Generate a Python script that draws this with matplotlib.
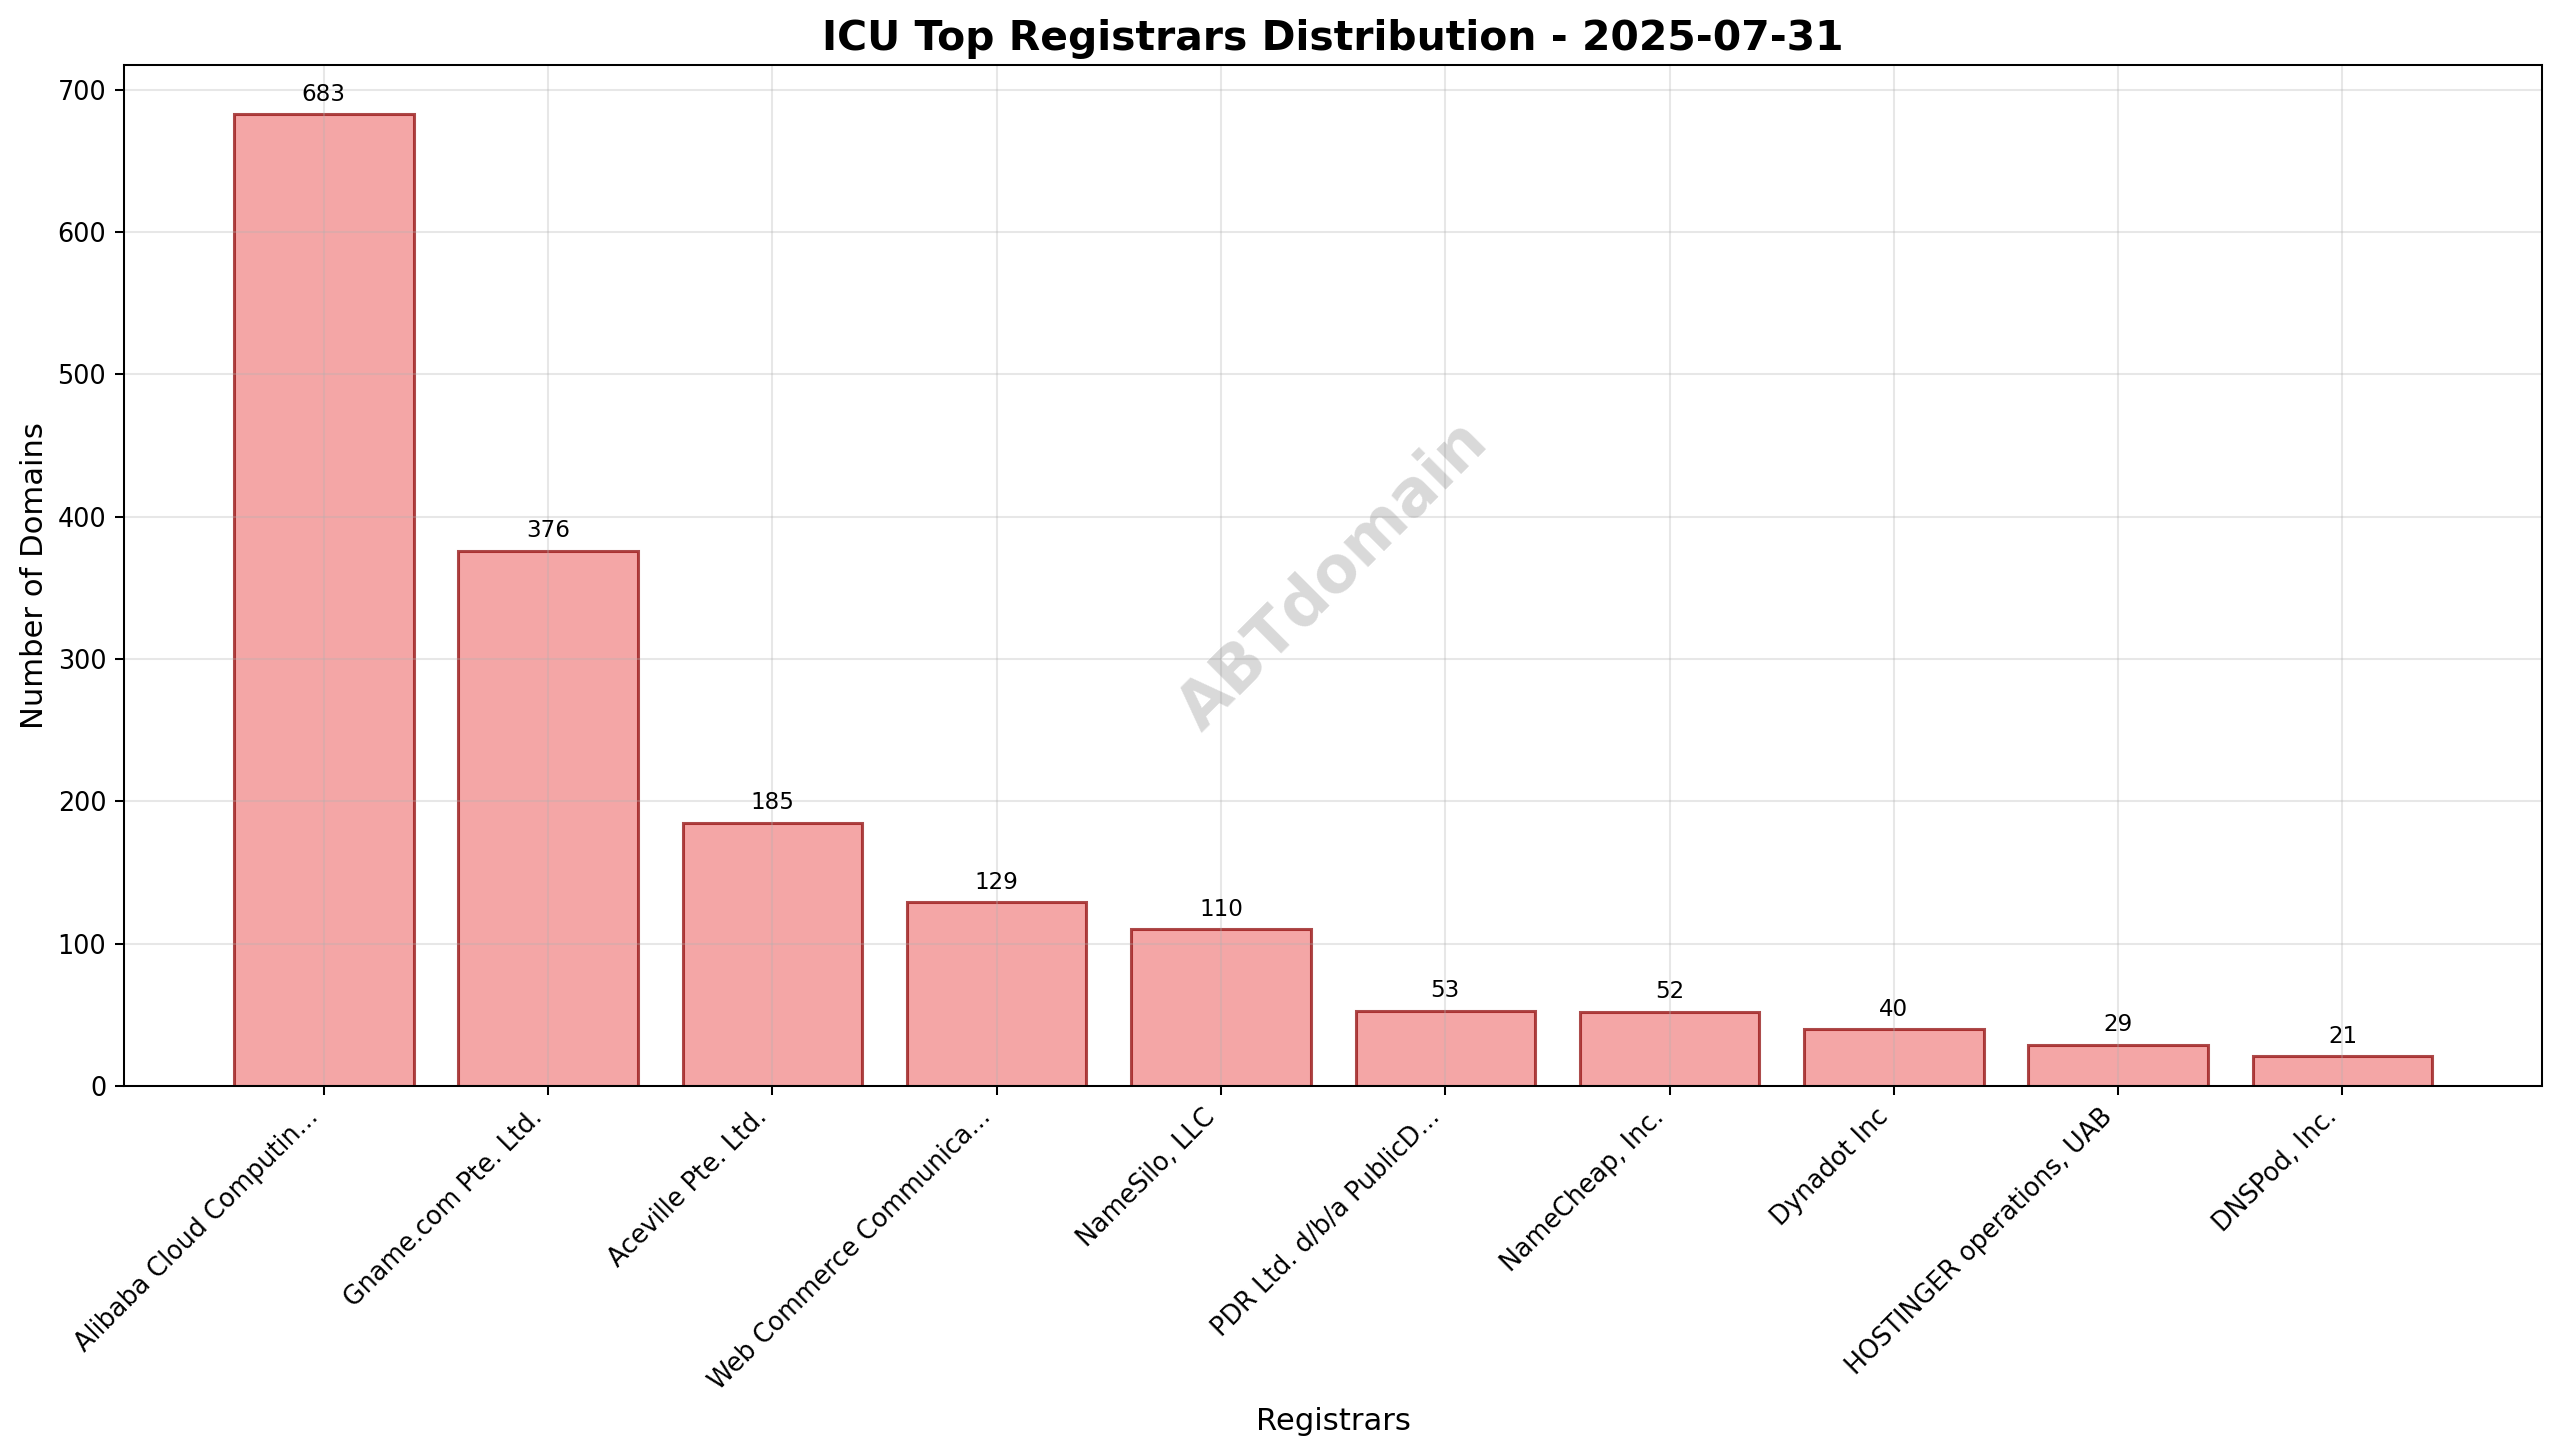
import matplotlib
matplotlib.use('Agg')
import matplotlib.pyplot as plt

registrars = ['Alibaba Cloud Computin...', 'Gname.com Pte. Ltd.', 'Aceville Pte. Ltd.',
              'Web Commerce Communica...', 'NameSilo, LLC', 'PDR Ltd. d/b/a PublicD...',
              'NameCheap, Inc.', 'Dynadot Inc', 'HOSTINGER operations, UAB', 'DNSPod, Inc.']
counts = [683, 376, 185, 129, 110, 53, 52, 40, 29, 21]

fig, ax = plt.subplots(figsize=(2560 / 184, 1455 / 184), dpi=184)

bars = ax.bar(registrars, counts, color='lightcoral', alpha=0.7, edgecolor='darkred', linewidth=1.2)
for bar, n in zip(bars, counts):
    ax.text(bar.get_x() + bar.get_width() / 2, n + 6, str(n), ha='center', va='bottom', fontsize=9)

ax.set_title('ICU Top Registrars Distribution - 2025-07-31', fontsize=16, fontweight='bold')
ax.set_xlabel('Registrars', fontsize=12, labelpad=4.6)
ax.set_ylabel('Number of Domains', fontsize=12, labelpad=3.3)
plt.xticks(rotation=45, ha='right')
ax.grid(True, alpha=0.3)

# watermark
ax.text(0.5, 0.5, 'ABTdomain', transform=ax.transAxes, fontsize=25, color='gray', alpha=0.3,
        fontweight='bold', rotation=45, ha='center', va='center')

fig.subplots_adjust(left=0.0485, right=0.993, top=0.955, bottom=0.2536)
plt.savefig('out.png', dpi=184)
